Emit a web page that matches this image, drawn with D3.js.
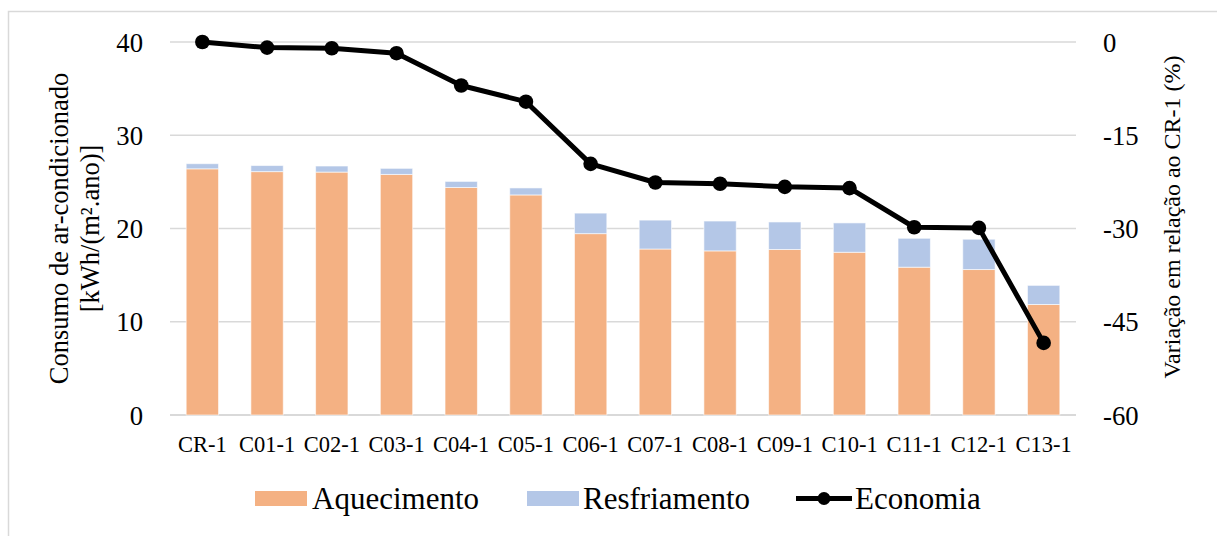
<!DOCTYPE html>
<html>
<head>
<meta charset="utf-8">
<script src="https://cdn.jsdelivr.net/npm/d3@7"></script>
<style>
  html, body { margin: 0; padding: 0; background: #fff; }
  svg { display: block; }
  text { font-family: "Liberation Serif", "Times New Roman", serif; fill: #000; }
</style>
</head>
<body>
<svg id="chart" width="1217" height="536"></svg>
<script>
// Air-conditioning consumption per case, kWh/(m².ano)
const categories = ["CR-1", "C01-1", "C02-1", "C03-1", "C04-1", "C05-1", "C06-1",
                    "C07-1", "C08-1", "C09-1", "C10-1", "C11-1", "C12-1", "C13-1"];
const aquecimento = [26.4, 26.1, 26.05, 25.8, 24.4, 23.6, 19.45, 17.8, 17.6, 17.75, 17.45, 15.85, 15.6, 11.85];
const resfriamento = [0.55, 0.65, 0.65, 0.65, 0.65, 0.75, 2.2, 3.1, 3.2, 2.95, 3.15, 3.1, 3.25, 2.05];
// Variation relative to CR-1 (%)
const economia = [0, -0.9, -1.0, -1.8, -7.0, -9.6, -19.6, -22.6, -22.8, -23.3, -23.5, -29.8, -29.9, -48.4];

const leftTicks = [0, 10, 20, 30, 40];
const rightTicks = [0, -15, -30, -45, -60];

const colors = { aq: "#F4B183", rf: "#B4C7E7", line: "#000000", grid: "#D9D9D9" };

const svg = d3.select("#chart");
const W = 1217, H = 536;
const plot = { left: 170, right: 1076, top: 42, bottom: 415 };

// Outer chart frame
svg.append("rect")
  .attr("x", 8.5).attr("y", 11.5)
  .attr("width", W + 10).attr("height", H + 10)
  .attr("fill", "#fff").attr("stroke", colors.grid).attr("stroke-width", 1.5);

const x = d3.scaleBand().domain(categories).range([plot.left, plot.right]).paddingInner(0.5).paddingOuter(0.25);
const yL = d3.scaleLinear().domain([0, 40]).range([plot.bottom, plot.top]);
const yR = d3.scaleLinear().domain([-60, 0]).range([plot.bottom, plot.top]);

// Plain hyphen-minus for negative labels
const fmt = d => String(d);

// Gridlines
svg.append("g").selectAll("line").data(leftTicks).join("line")
  .attr("x1", plot.left).attr("x2", plot.right)
  .attr("y1", d => yL(d)).attr("y2", d => yL(d))
  .attr("stroke", colors.grid).attr("stroke-width", d => d === 0 ? 1.8 : 1.3);

// Left axis
const axL = svg.append("g").attr("transform", `translate(${plot.left - 27},0)`)
  .call(d3.axisLeft(yL).tickValues(leftTicks).tickSize(0).tickPadding(0).tickFormat(fmt));
axL.select(".domain").remove();
axL.selectAll("text").attr("font-size", "26.7px").attr("font-family", "Liberation Serif").attr("dy", "0.34em");

// Right axis
const axR = svg.append("g").attr("transform", `translate(${plot.right + 27},0)`)
  .call(d3.axisRight(yR).tickValues(rightTicks).tickSize(0).tickPadding(0).tickFormat(fmt));
axR.select(".domain").remove();
axR.selectAll("text").attr("font-size", "26.7px").attr("font-family", "Liberation Serif").attr("dy", "0.34em");

// Category axis
const axX = svg.append("g").attr("transform", `translate(0,${plot.bottom})`)
  .call(d3.axisBottom(x).tickSize(0).tickPadding(0));
axX.select(".domain").remove();
axX.selectAll("text").attr("font-size", "22.5px").attr("font-family", "Liberation Serif").attr("dy", "1.64em");

// Stacked bars
const stackData = categories.map((c, i) => ({ cat: c, aq: aquecimento[i], rf: resfriamento[i] }));
const series = d3.stack().keys(["aq", "rf"])(stackData);
svg.append("g").selectAll("g").data(series).join("g")
  .attr("fill", d => colors[d.key])
  .selectAll("rect").data(d => d).join("rect")
  .attr("x", d => x(d.data.cat))
  .attr("width", x.bandwidth())
  .attr("y", d => yL(d[1]))
  .attr("height", d => yL(d[0]) - yL(d[1]))
  .attr("stroke", "#ffffff").attr("stroke-opacity", 0.6).attr("stroke-width", 1);

// Economia line with markers
const cx = (c) => x(c) + x.bandwidth() / 2;
const lineGen = d3.line().x((d, i) => cx(categories[i])).y(d => yR(d));
svg.append("path").datum(economia)
  .attr("d", lineGen).attr("fill", "none")
  .attr("stroke", colors.line).attr("stroke-width", 5).attr("stroke-linejoin", "round");
svg.append("g").selectAll("circle").data(economia).join("circle")
  .attr("cx", (d, i) => cx(categories[i])).attr("cy", d => yR(d))
  .attr("r", 7.3).attr("fill", colors.line);

// Axis titles
const tl = svg.append("text")
  .attr("transform", `translate(75,${(plot.top + plot.bottom) / 2}) rotate(-90)`)
  .attr("text-anchor", "middle").attr("font-size", "26.5px");
tl.append("tspan").attr("x", 0).attr("dy", "-0.25em").text("Consumo de ar-condicionado");
tl.append("tspan").attr("x", 0).attr("dy", "1.15em").text("[kWh/(m².ano)]");

svg.append("text")
  .attr("transform", `translate(1172,217) rotate(-90)`)
  .attr("text-anchor", "middle").attr("dy", "0.34em").attr("font-size", "24px")
  .text("Variação em relação ao CR-1 (%)");

// Legend
const lg = svg.append("g");
const legendY = 498.5;
lg.append("rect").attr("x", 255).attr("y", legendY - 7.5).attr("width", 52).attr("height", 15).attr("fill", colors.aq);
lg.append("text").attr("x", 312).attr("y", legendY).attr("dy", "0.34em").attr("font-size", "31px").text("Aquecimento");
lg.append("rect").attr("x", 527).attr("y", legendY - 7.5).attr("width", 52).attr("height", 15).attr("fill", colors.rf);
lg.append("text").attr("x", 583).attr("y", legendY).attr("dy", "0.34em").attr("font-size", "31px").text("Resfriamento");
lg.append("line").attr("x1", 796).attr("x2", 852).attr("y1", legendY).attr("y2", legendY)
  .attr("stroke", colors.line).attr("stroke-width", 5);
lg.append("circle").attr("cx", 824).attr("cy", legendY).attr("r", 6.5).attr("fill", colors.line);
lg.append("text").attr("x", 855).attr("y", legendY).attr("dy", "0.34em").attr("font-size", "31px").text("Economia");
</script>
</body>
</html>
